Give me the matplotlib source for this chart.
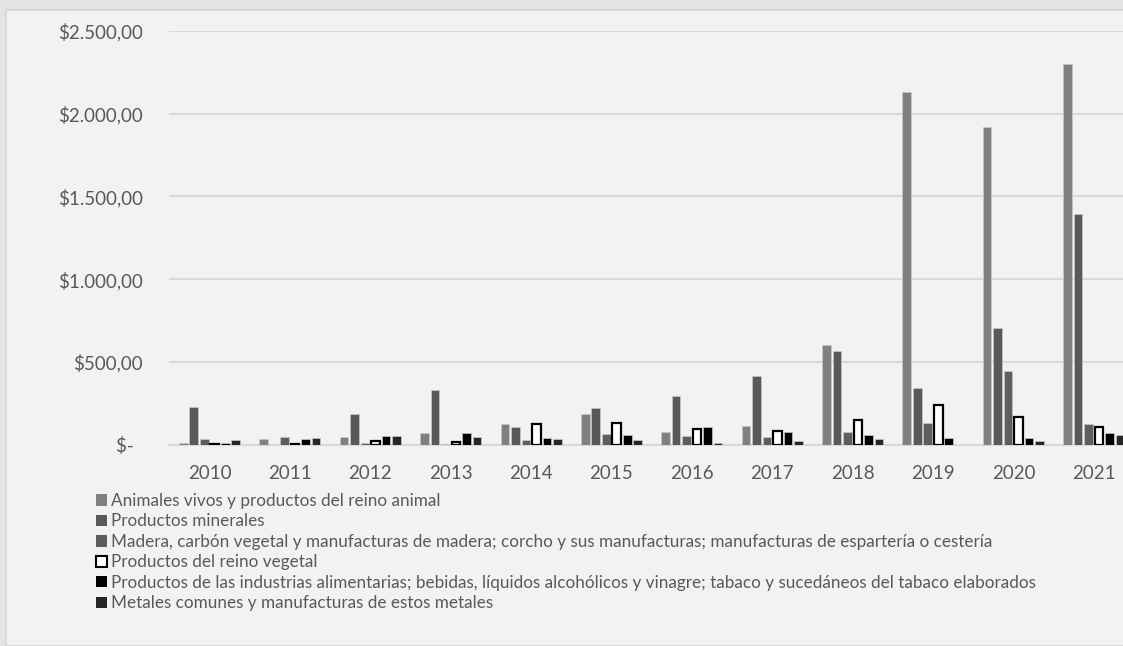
import matplotlib
matplotlib.use("Agg")
import matplotlib.pyplot as plt
from matplotlib.patches import Rectangle, Patch
import numpy as np

years = ["2010", "2011", "2012", "2013", "2014", "2015", "2016", "2017", "2018", "2019", "2020", "2021"]
series_names = [
    "Animales vivos y productos del reino animal",
    "Productos minerales",
    "Madera, carbón vegetal y manufacturas de madera; corcho y sus manufacturas; manufacturas de espartería o cestería",
    "Productos del reino vegetal",
    "Productos de las industrias alimentarias; bebidas, líquidos alcohólicos y vinagre; tabaco y sucedáneos del tabaco elaborados",
    "Metales comunes y manufacturas de estos metales",
]
animales = [7, 36, 44, 70, 125, 187, 75, 113, 602, 2130, 1918, 2299]
minerales = [227, 0, 187, 327, 105, 218, 294, 413, 564, 340, 707, 1394]
madera = [36, 44, 7, 6, 28, 66, 50, 48, 76, 131, 443, 125]
vegetal = [3, 5, 20, 15, 121, 133, 94, 80, 149, 236, 167, 103]
alimentarias = [8, 36, 50, 67, 40, 60, 103, 73, 60, 42, 40, 68]
metales = [26, 42, 50, 44, 34, 26, 12, 24, 34, 0, 20, 56]
yticks = [0, 500, 1000, 1500, 2000, 2500]
ytick_labels = ["$-  ", "$500,00", "$1.000,00", "$1.500,00", "$2.000,00", "$2.500,00"]

series = [animales, minerales, madera, vegetal, alimentarias, metales]
fills = ["#808080", "#595959", "#5e5e5e", "#ffffff", "#000000", "#262626"]
edges = ["#c8c8c8", "#c8c8c8", "#c8c8c8", "#000000", "#c8c8c8", "#c8c8c8"]
lws = [0.5, 0.5, 0.5, 1.6, 0.5, 0.5]

plt.rcParams['font.family'] = ['Lato', 'DejaVu Sans']
W, H = 1123, 646
fig = plt.figure(figsize=(W / 100, H / 100), dpi=100)
fig.patch.set_facecolor("#e4e4e4")
fig.patches.append(Rectangle((6 / W, 0), 1.2, 1 - 10 / H, transform=fig.transFigure,
                             facecolor="#f2f2f2", edgecolor="#d6d6d6", linewidth=1.2, zorder=-10))

left, right = 169.3, 1134.0
bottom_px, top_px = 444.5, 31.0
ax = fig.add_axes([left / W, 1 - bottom_px / H, (right - left) / W, (bottom_px - top_px) / H])
ax.set_facecolor("none")

x = np.arange(len(years))
pitch = 10.5 / 80.4
bw = 8.6 / 80.4
for j, vals in enumerate(series):
    ax.bar(x + (j - 2.5) * pitch, vals, width=bw, color=fills[j], edgecolor=edges[j],
           linewidth=lws[j], zorder=3)

ax.set_xlim(-0.5, len(years) - 0.5)
ax.set_ylim(0, 2500)
ax.set_yticks(yticks)
ax.set_yticklabels(ytick_labels)
ax.set_xticks(x)
ax.set_xticklabels(years)
ax.grid(axis="y", color="#d9d9d9", linewidth=1.5, zorder=0)
for s in ["top", "right", "left"]:
    ax.spines[s].set_visible(False)
ax.spines["bottom"].set_color("#d9d9d9")
ax.spines["bottom"].set_linewidth(1.5)
ax.tick_params(axis="y", length=0, pad=19, labelsize=13.5, labelcolor="#595959")
ax.tick_params(axis="x", length=0, pad=14.5, labelsize=13.5, labelcolor="#595959")

handles = [Patch(facecolor=fills[j], edgecolor=("#000000" if j == 3 else fills[j]),
                 linewidth=(1.5 if j == 3 else 0)) for j in range(6)]
leg = fig.legend(handles, series_names, loc="upper left",
                 bbox_to_anchor=(96 / W, 1 - 493 / H), frameon=False,
                 fontsize=12.3, labelcolor="#595959", handlelength=0.65, handleheight=0.65,
                 handletextpad=0.25, labelspacing=0.26, borderpad=0, borderaxespad=0)

fig.savefig("out.png", dpi=100, facecolor=fig.get_facecolor())
